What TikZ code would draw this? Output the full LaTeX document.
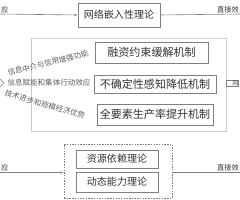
\documentclass[tikz,border=0pt]{standalone}
\usepackage{fontspec}
\setmainfont{Noto Sans CJK SC}
\usetikzlibrary{arrows.meta,positioning}
\definecolor{ink}{HTML}{333333}
\definecolor{edge}{HTML}{7F7F7F}
\definecolor{frame}{HTML}{CCCCCC}
\begin{document}
\begin{tikzpicture}[x=0.035cm,y=-0.035cm,>={Latex[length=3pt,width=2.4pt]},
font=\fontsize{10}{12}\selectfont,
theory/.style={draw=edge,line width=.8pt,align=center,fill=white,text=ink,minimum width=2.87cm,minimum height=.66cm,inner sep=2pt},
mechbox/.style={draw=edge,line width=.8pt,align=center,fill=white,text=ink,minimum height=.7cm,inner sep=2pt,font=\fontsize{11}{13}\selectfont},
path/.style={text=ink!80,font=\fontsize{7.5}{8}\selectfont,inner sep=0pt},
effect/.style={text=ink,font=\fontsize{7.2}{8}\selectfont,inner sep=1pt},
arr/.style={->,line width=.6pt,draw=edge}]
\useasboundingbox (0,0) rectangle (240,200);
\clip (0,0) rectangle (240,200);
\node[theory,minimum height=.84cm] (net) at (119,15) {网络嵌入性理论};
\coordinate (inT) at (0,14);
\coordinate (outT) at (240,14);
\draw[arr] (inT) -- (net.west);
\draw[line width=.6pt,draw=edge] (net.east) -- (outT);
\node[effect,anchor=south west] (inTl) at (inT) {应};
\node[effect,anchor=south east] (outTl) at (outT) {直接效};
\node[draw=frame,line width=.8pt,minimum width=6.83cm,minimum height=3.26cm] (mech) at (128.5,84.5) {};
\node[mechbox,minimum width=3.96cm,minimum height=.74cm] (fin) at (151.5,52.5) {融资约束缓解机制};
\node[mechbox,minimum width=4.27cm,minimum height=.63cm] (unc) at (155,84) {不确定性感知降低机制};
\node[mechbox,minimum width=4.06cm,minimum height=.74cm] (tfp) at (155,114.5) {全要素生产率提升机制};
\node[draw=edge,line width=.6pt,anchor=west,inner xsep=0pt,inner ysep=.3pt,text=ink,font=\fontsize{6}{6}\selectfont] (ind) at (226,83) {\hspace{.21cm}间\hspace{.4cm}};
\coordinate (fork) at (4,83);
\draw[draw=edge,line width=.6pt] (0,79) -- (fork) -- (0,87);
\node[path,rotate=14] (info) at (48,63) {信息中介与信用增强功能};
\node[path] (coll) at (49,83) {信息赋能和集体行动效应};
\node[path,rotate=-16] (tech) at (45,104.5) {技术进步和规模经济优势};
\node[draw=edge,dashed,dash pattern=on 1.5pt off 1.2pt,line width=.8pt,minimum width=3.78cm,minimum height=1.89cm] (cap) at (118,171) {};
\node[theory,minimum height=.63cm] (res) at (117,159) {资源依赖理论};
\node[theory,minimum height=.7cm] (dyn) at (117,182) {动态能力理论};
\coordinate (inB) at (0,172.5);
\coordinate (outB) at (240,172);
\draw[arr] (inB) -- (cap.west |- inB);
\draw[line width=.6pt,draw=edge] (cap.east |- outB) -- (outB);
\node[effect,anchor=south west] (inBl) at (inB) {应};
\node[effect,anchor=south east] (outBl) at (outB) {直接效};
\end{tikzpicture}
\end{document}
